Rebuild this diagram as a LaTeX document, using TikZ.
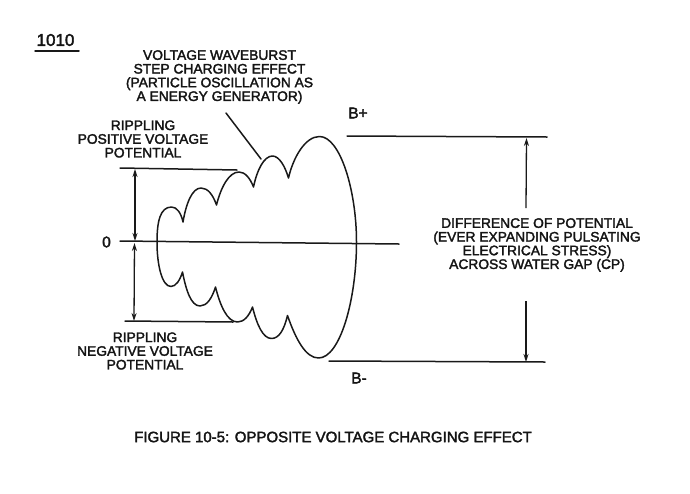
\documentclass[tikz,border=0pt]{standalone}
\usepackage{fontspec}
\setmainfont[FakeBold=2.2]{Liberation Sans}
\usetikzlibrary{arrows.meta}
\tikzset{
 ink/.style={draw=black!90,line width=1.5pt,line cap=round,line join=round},
 dimline/.style={draw=black!90,line width=1.3pt},
 dim/.style={dimline,{Stealth[length=8pt,width=5pt]}-{Stealth[length=8pt,width=5pt]}},
 lab/.style={align=center,font=\fontsize{13.8}{13.7}\selectfont,text=black!92,inner sep=0pt},
 big/.style={lab,font=\fontsize{15.5}{15.5}\selectfont},
}
\begin{document}
\begin{tikzpicture}[x=1pt,y=-1pt]
\useasboundingbox (0,0) rectangle (690,493);
\node[lab,font=\fontsize{17}{17}\selectfont] (n1010) at (55.5,40) {1010};
\coordinate (u1) at (35,51); \coordinate (u2) at (79,51);
\draw[ink] (u1)--(u2);
\node[lab] (wave) at (219.5,77) {VOLTAGE WAVEBURST\\STEP CHARGING  EFFECT\\(PARTICLE OSCILLATION AS\\A ENERGY GENERATOR)};
\node[lab] (pos) at (143,139) {RIPPLING\\POSITIVE VOLTAGE\\POTENTIAL};
\node[lab] (neg) at (145,351) {RIPPLING\\NEGATIVE VOLTAGE\\POTENTIAL};
\node[big] (bp) at (358,113) {B+};
\node[big] (bm) at (359,378) {B-};
\node[big] (zero) at (106.5,242) {0};
\node[lab] (diff) at (537,245) {DIFFERENCE OF POTENTIAL\\(EVER EXPANDING PULSATING\\ELECTRICAL STRESS)\\ACROSS WATER GAP (CP)};
\node[lab,font=\fontsize{15}{15}\selectfont] (cap) at (333,437) {FIGURE 10-5: OPPOSITE VOLTAGE CHARGING EFFECT};
% horizontal lines
\coordinate (z1) at (120,241); \coordinate (z2) at (399,244);
\coordinate (t1) at (120,168); \coordinate (t2) at (237,170);
\coordinate (l1) at (125,321); \coordinate (l2) at (233,322);
\coordinate (bp1) at (347,136); \coordinate (bp2) at (547,137);
\coordinate (bm1) at (329,361); \coordinate (bm2) at (545,362);
\draw[ink] (z1)--(z2);
\draw[ink] (t1)--(t2);
\draw[ink] (l1)--(l2);
\draw[ink] (bp1)--(bp2);
\draw[ink] (bm1)--(bm2);
% arrows
\coordinate (a1) at (135,169); \coordinate (a2) at (135,241);
\coordinate (a3) at (134.5,243); \coordinate (a4) at (134,321);
\draw[dim] (a1)--(a2);
\draw[dim] (a3)--(a4);
\coordinate (r1) at (526.5,138); \coordinate (r2) at (526,208);
\coordinate (r3) at (526,301); \coordinate (r4) at (526,362);
\draw[dimline,{Stealth[length=8pt,width=5pt]}-] (r1)--(r2);
\draw[dimline,-{Stealth[length=8pt,width=5pt]}] (r3)--(r4);
% pointer
\coordinate (p1) at (226,113); \coordinate (p2) at (261,159);
\draw[ink] (p1)--(p2);
% envelope
\draw[ink] (157,242)
 .. controls (157,222) and (160,207) .. (171.5,207)
 .. controls (177,207) and (181,213) .. (183,222)
 .. controls (186,204) and (192,188) .. (201,188)
 .. controls (208,188) and (213,195) .. (216.5,205)
 .. controls (221,187) and (229,172) .. (239,172)
 .. controls (245,172) and (250,178) .. (253.5,187)
 .. controls (257,170) and (264,156) .. (272.5,156)
 .. controls (279,156) and (285,166) .. (288.5,178)
 .. controls (293,158) and (305,136.5) .. (319.5,136.5)
 .. controls (340,136.5) and (356.5,190) .. (356.5,242)
 .. controls (356.5,300) and (340,358) .. (318.5,358)
 .. controls (306,358) and (296,340) .. (287.5,315.5)
 .. controls (284,330) and (279,338.5) .. (271.5,338.5)
 .. controls (263,338.5) and (257,325) .. (252.5,307)
 .. controls (249,316) and (244,322) .. (237.5,322)
 .. controls (227,322) and (220,305) .. (215.5,287)
 .. controls (212,298) and (207,306) .. (200,306)
 .. controls (191,306) and (186,290) .. (182.5,272)
 .. controls (180,280) and (176,286.5) .. (171,286.5)
 .. controls (162,286.5) and (157,265) .. (157,242) -- cycle;
\end{tikzpicture}
\end{document}
